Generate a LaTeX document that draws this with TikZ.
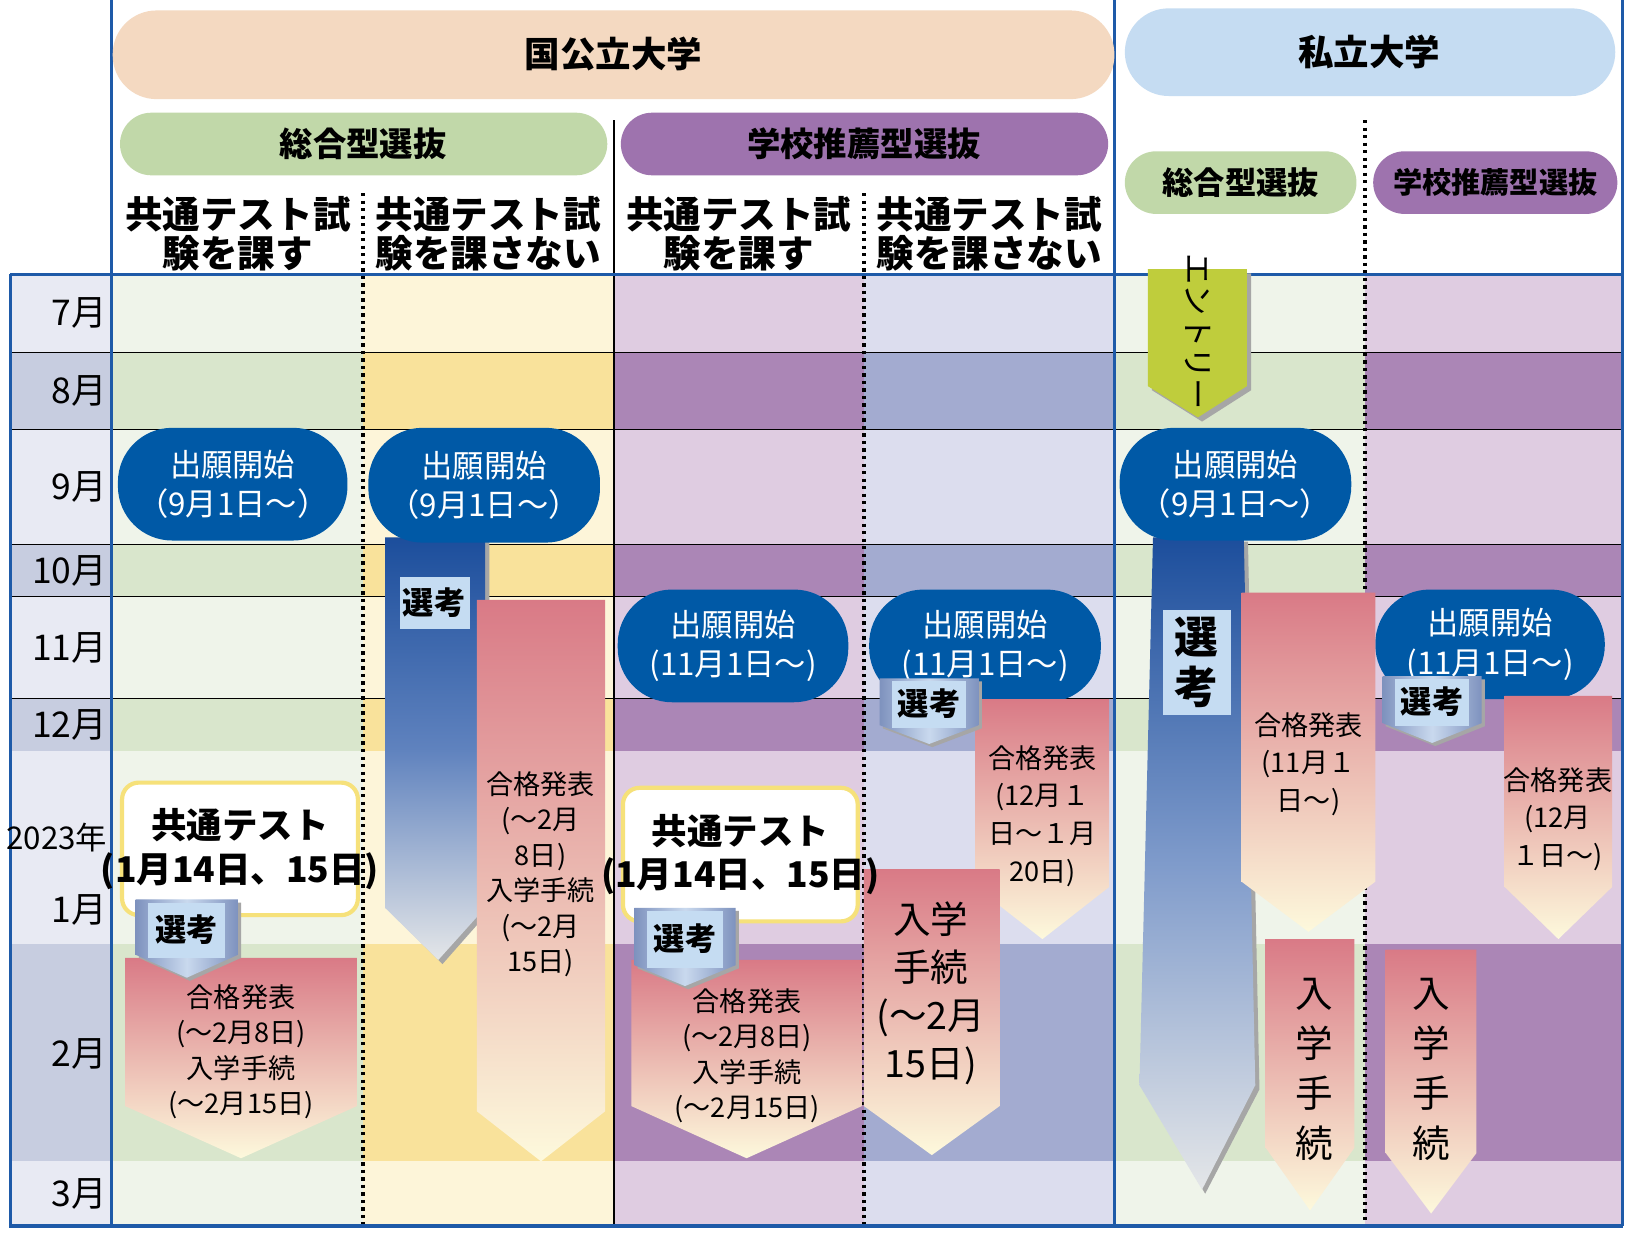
\documentclass[tikz,border=0pt]{standalone}
\usepackage{fontspec}
\setmainfont{Noto Sans CJK JP}
\begin{document}
\begin{tikzpicture}[x=0.5pt,y=-0.5pt,
  lbl/.style={align=center,inner sep=0pt,text=black},
  wt/.style={align=center,text=white,inner sep=0pt,font=\fontsize{15}{19}\selectfont}]
\definecolor{blueP}{HTML}{0059A6}
\definecolor{bline}{HTML}{1E5AA8}
\definecolor{thin}{HTML}{9FB4DC}
\definecolor{g1}{HTML}{EFF4EA}\definecolor{g2}{HTML}{D9E6CC}
\definecolor{y1}{HTML}{FDF5D9}\definecolor{y2}{HTML}{F9E29B}
\definecolor{p1}{HTML}{DFCCE1}\definecolor{p2}{HTML}{AB86B6}
\definecolor{l1}{HTML}{DCDDEE}\definecolor{l2}{HTML}{A3ABD0}
\definecolor{m1}{HTML}{E8EAF3}\definecolor{m2}{HTML}{C7CDE0}
\definecolor{pkT}{HTML}{D97A86}\definecolor{pkB}{HTML}{FDF9DC}
\definecolor{selT}{HTML}{7E92BE}\definecolor{selB}{HTML}{C9D9EE}
\definecolor{lb}{HTML}{C5DCF2}
\definecolor{hA}{HTML}{F4D9C1}\definecolor{hB}{HTML}{C5DCF2}
\definecolor{hG}{HTML}{C1D8A9}\definecolor{hP}{HTML}{9E73AE}
\definecolor{ent}{HTML}{BFCD3C}\definecolor{ctb}{HTML}{F6E17A}
\definecolor{gr1}{HTML}{E4E6E8}\definecolor{bm}{HTML}{5F82BE}\definecolor{bt}{HTML}{1C4E9C}
\useasboundingbox (0,0) rectangle (1565,1184);
\fill[white] (0,0) rectangle (1565,1184);
% rows
\foreach \a/\b/\k in {263/338/1,338/412/2,412/522/1,522/572/2,572/670/1,670/720/2,720/905/1,905/1113/2,1113/1175/1}{
  \fill[m\k] (10,\a) rectangle (107,\b);
  \fill[g\k] (107,\a) rectangle (348,\b);
  \fill[y\k] (348,\a) rectangle (588,\b);
  \fill[p\k] (588,\a) rectangle (828,\b);
  \fill[l\k] (828,\a) rectangle (1068,\b);
  \fill[g\k] (1068,\a) rectangle (1308,\b);
  \fill[p\k] (1308,\a) rectangle (1555,\b);
  \draw[thin,line width=0.6pt] (10,\b) -- (1555,\b);
}
\draw[thin,line width=1pt] (588,115) -- (588,1175);
\foreach \x/\t in {348/185,828/185,1308/115}
  \draw[thin,line width=1.6pt,dotted] (\x,\t) -- (\x,1175);
\draw[bline,line width=1.6pt] (10,263) -- (1555,263) (10,263) -- (10,1175) -- (1555,1175)
  (107,0) -- (107,1175) (1068,0) -- (1068,1175) (1555,0) -- (1555,1175);
% month labels
\foreach \y/\t in {300/7月,375/8月,467/9月,547/10月,621/11月,695/12月,872/1月,1010/2月,1144/3月}
  \node[lbl,anchor=east,font=\fontsize{17}{17}\selectfont] at (103,\y) {\t};
\node[lbl,anchor=east,font=\fontsize{15}{15}\selectfont] at (103,803) {2023年};
% header pills
\fill[hA,rounded corners=21pt] (108,10) rectangle (1068,95);
\node[lbl,font=\fontsize{17}{17}\selectfont\bfseries] at (588,52) {国公立大学};
\fill[hB,rounded corners=21pt] (1078,8) rectangle (1548,92);
\node[lbl,font=\fontsize{17}{17}\selectfont\bfseries] at (1312,50) {私立大学};
\fill[hG,rounded corners=15pt] (115,108) rectangle (582,168);
\node[lbl,font=\fontsize{16}{16}\selectfont\bfseries] at (348,138) {総合型選抜};
\fill[hP,rounded corners=15pt] (595,108) rectangle (1062,168);
\node[lbl,font=\fontsize{16}{16}\selectfont\bfseries] at (828,138) {学校推薦型選抜};
\fill[hG,rounded corners=15pt] (1078,145) rectangle (1300,205);
\node[lbl,font=\fontsize{15}{15}\selectfont\bfseries] at (1189,175) {総合型選抜};
\fill[hP,rounded corners=15pt] (1316,145) rectangle (1550,205);
\node[lbl,font=\fontsize{14}{14}\selectfont\bfseries] at (1433,175) {学校推薦型選抜};
\foreach \x/\t in {228/{共通テスト試\\験を課す},468/{共通テスト試\\験を課さない},708/{共通テスト試\\験を課す},948/{共通テスト試\\験を課さない}}
  \node[lbl,font=\fontsize{18}{19}\selectfont\bfseries] at (\x,224) {\t};
% blue selection arrows
\fill[gray!70] (373,519) -- (469,519) -- (469,873) -- (424,924) -- (373,873) -- cycle;
\shade[top color=bt,bottom color=gr1,middle color=bm] (369,515) -- (465,515) -- (465,870) -- (420,920) -- (369,870) -- cycle;
\fill[lb] (383,553) rectangle (450,603);
\node[lbl,font=\fontsize{15}{15}\selectfont\bfseries] at (416,578) {選考};
\fill[gray!70] (1108,519) -- (1196,519) -- (1207,1044) -- (1155,1144) -- (1096,1044) -- cycle;
\shade[top color=bt,bottom color=gr1,middle color=bm!80!white] (1105,515) -- (1192,515) -- (1203,1040) -- (1152,1140) -- (1092,1040) -- cycle;
\fill[lb] (1115,585) rectangle (1180,685);
\node[lbl,font=\fontsize{21}{24}\selectfont\bfseries] at (1147,635) {選\\考};
% entry
\fill[gray!70] (1104,262) -- (1199,262) -- (1199,374) -- (1152,404) -- (1104,374) -- cycle;
\fill[ent] (1100,258) -- (1195,258) -- (1195,370) -- (1148,400) -- (1100,370) -- cycle;
\node[lbl,rotate=-90,font=\fontsize{15}{15}\selectfont] at (1148,318) {エントリー};
% pills
\foreach \a/\b/\c/\d/\t in {113/333/410/518/{出願開始\\（9月1日～）},353/575/410/520/{出願開始\\（9月1日～）},1073/1295/410/518/{出願開始\\（9月1日～）},592/813/565/673/{出願開始\\(11月1日～)},833/1055/565/673/{出願開始\\(11月1日～)},1318/1538/565/670/{出願開始\\(11月1日～)}}{
  \fill[blueP,rounded corners=26pt] (\a,\c) rectangle (\b,\d);
  \node[wt] at ({(\a+\b)/2},{(\c+\d)/2}) {\t};
}
% pink arrows: x1 x2 top shaft tipy
\foreach \a/\b/\t/\s/\p in {457/580/575/1065/1113,120/342/918/1060/1110,605/826/920/1060/1110,935/1063/670/850/900,828/958/833/1060/1107,1190/1318/568/845/893,1213/1298/900/1100/1160,1442/1545/667/850/900,1328/1415/910/1105/1163}
  \shade[top color=pkT,bottom color=pkB] (\a,\t) -- (\b,\t) -- (\b,\s) -- ({(\a+\b)/2},\p) -- (\a,\s) -- cycle;
\node[lbl,font=\fontsize{13}{17}\selectfont] at (518,838) {合格発表\\(～2月\\8日)\\入学手続\\(～2月\\15日)};
\node[lbl,font=\fontsize{13}{17}\selectfont] at (231,1008) {合格発表\\(～2月8日)\\入学手続\\(～2月15日)};
\node[lbl,font=\fontsize{13}{17}\selectfont] at (716,1012) {合格発表\\(～2月8日)\\入学手続\\(～2月15日)};
\node[lbl,font=\fontsize{13}{18}\selectfont] at (999,782) {合格発表\\(12月１\\日～１月\\20日)};
\node[lbl,font=\fontsize{18}{23}\selectfont] at (892,952) {入学\\手続\\(～2月\\15日)};
\node[lbl,font=\fontsize{13}{18}\selectfont] at (1254,732) {合格発表\\(11月１\\日～)};
\node[lbl,font=\fontsize{13}{18}\selectfont] at (1493,785) {合格発表\\(12月\\１日～)};
\node[lbl,font=\fontsize{18}{24}\selectfont] at (1260,1025) {入\\学\\手\\続};
\node[lbl,font=\fontsize{18}{24}\selectfont] at (1372,1025) {入\\学\\手\\続};
% common test boxes
\foreach \a/\b/\c/\d in {117/343/750/877,597/822/755/883}{
  \draw[fill=white,draw=ctb,line width=2pt,rounded corners=8pt] (\a,\c) rectangle (\b,\d);
  \node[lbl,font=\fontsize{17}{21}\selectfont\bfseries] at ({(\a+\b)/2},{(\c+\d)/2}) {共通テスト\\(1月14日、15日)};
}
% small selection arrows
\foreach \a/\b/\c/\d/\p in {130/228/862/915/937,608/705/870/925/945,843/938/650/695/713,1325/1420/648/693/712}{
  \fill[gray!70] (\a+3,\c+3) -- (\b+3,\c+3) -- (\b+3,\d+3) -- ({(\a+\b)/2+3},\p+3) -- (\a+3,\d+3) -- cycle;
  \shade[left color=selT,right color=selT,middle color=selB] (\a,\c) -- (\b,\c) -- (\b,\d) -- ({(\a+\b)/2},\p) -- (\a,\d) -- cycle;
  \fill[lb] (\a+12,\c+3) rectangle (\b-12,\d+3);
  \node[lbl,font=\fontsize{15}{15}\selectfont\bfseries] at ({(\a+\b)/2},{(\c+\d)/2+2}) {選考};
}
\end{tikzpicture}
\end{document}
